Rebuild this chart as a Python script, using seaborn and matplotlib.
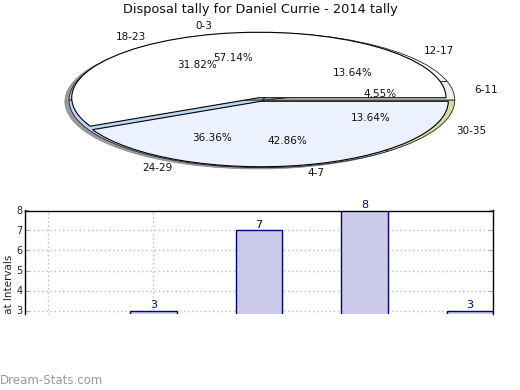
import matplotlib
matplotlib.use("Agg")
import matplotlib.pyplot as plt
import seaborn as sns
import pandas as pd
from matplotlib.transforms import Bbox, TransformedBbox

# ---------------- data ----------------
title = "Disposal tally for Daniel Currie - 2014 tally"
quarter_labels = ["0-3", "4-7"]
quarter_values = [4, 3]
interval_labels = ["6-11", "12-17", "18-23", "24-29", "30-35"]
interval_values = [1, 3, 7, 8, 3]
y_ticks = [3, 4, 5, 6, 7, 8]
y_label = "Disposals at Intervals"
watermark = "Dream-Stats.com"

sns.set_style("white")
plt.rcParams['font.family'] = ['DejaVu Sans']

W, H = 520, 390
fig = plt.figure(figsize=(W / 100, H / 100), dpi=100)


def fax(l, t, r, b):
    return fig.add_axes([l / W, 1 - b / H, (r - l) / W, (b - t) / H])


# ---------------- pie (elliptical, overlaid) ----------------
cx, cy, rx, ry = 260, 99.5, 190, 66.5
pax = fax(cx - 1.3 * rx, cy - 1.3 * ry, cx + 1.3 * rx, cy + 1.3 * ry)

under_colors = ['#eef0ea', '#f4f7fb', '#d0d0d0', '#bcd6f8', '#d5dc9c']
main_colors = ['#ffffff', '#ebf1fd']
tp = dict(fontsize=7.5, color='#111111')

# shadow
pax.pie(interval_values, colors=['#9a9a9a'] * 5, radius=1.015, center=(-0.012, -0.03),
        startangle=0, wedgeprops=dict(edgecolor='#888888', linewidth=0.5))
pax.pie(interval_values, labels=interval_labels, colors=under_colors, radius=1.015,
        center=(0.01, -0.01), startangle=0, counterclock=True,
        autopct='%.2f%%', pctdistance=0.62, labeldistance=1.11,
        wedgeprops=dict(edgecolor='#222222', linewidth=0.6), textprops=tp)
pax.pie(quarter_values, labels=quarter_labels, colors=main_colors, radius=0.985,
        center=(0, 0), startangle=0, counterclock=True, explode=[0.027, 0.027],
        autopct='%.2f%%', pctdistance=0.62, labeldistance=1.12,
        wedgeprops=dict(edgecolor='black', linewidth=0.8), textprops=tp)
pax.set_aspect('auto')
pax.set_xlim(-1.3, 1.3)
pax.set_ylim(-1.3, 1.3)
pax.axis('off')

fig.text(0.5, 1 - 10 / H, title, ha='center', va='center', fontsize=9.3, color='#111111')

# ---------------- bars ----------------
bax = fax(25, 210.5, 493, 313.5)
df = pd.DataFrame({'interval': interval_labels, 'count': interval_values})
bax.set_axisbelow(True)
bax.yaxis.grid(True, linestyle=(0, (1, 2)), color='#bbbbbb', linewidth=1)
for i in range(2):
    bax.axvline(i, linestyle=(0, (1, 2)), color='#bbbbbb', linewidth=1, zorder=0)
sns.barplot(data=df, x='interval', y='count', order=interval_labels, color='#ccccea',
            edgecolor='#000080', linewidth=1, width=0.445, saturation=1, ax=bax, zorder=2)
bax.set_xlim(-0.218, 4.218)
bax.set_ylim(2.85, 8)
ymin = bax.get_ylim()[0]
for p, v in zip(bax.patches, interval_values):
    if v > ymin:
        bax.text(p.get_x() + p.get_width() / 2, v, str(v), ha='center', va='bottom',
                 color='#000080', fontsize=8, clip_on=False, zorder=5)
bax.set_xticks([])
bax.set_xlabel('')
bax.set_yticks(y_ticks)
bax.tick_params(axis='y', direction='in', length=3, color='#aaaaaa', labelsize=7,
                labelcolor='#222222', left=True, right=True, pad=2)
for s in ['top', 'left', 'right']:
    bax.spines[s].set_visible(True)
    bax.spines[s].set_color('black')
    bax.spines[s].set_linewidth(1)
bax.spines['bottom'].set_visible(False)
lab = bax.set_ylabel(y_label, fontsize=7.5, color='#222222')
# reference image is cut off just below the bar plot: label ends at the same place
bax.yaxis.set_label_coords(-0.0235, (313.5 - 311) / 103)
lab.set_clip_box(TransformedBbox(Bbox.from_extents(0, 1 - 313.5 / H, 1, 1),
                                 fig.transFigure))
lab.set_clip_on(True)

fig.text(0.0, 1 - 380 / H, watermark, ha='left', va='center', fontsize=8.5,
         color='#999999')

fig.savefig('out.png', dpi=100, facecolor='white')
